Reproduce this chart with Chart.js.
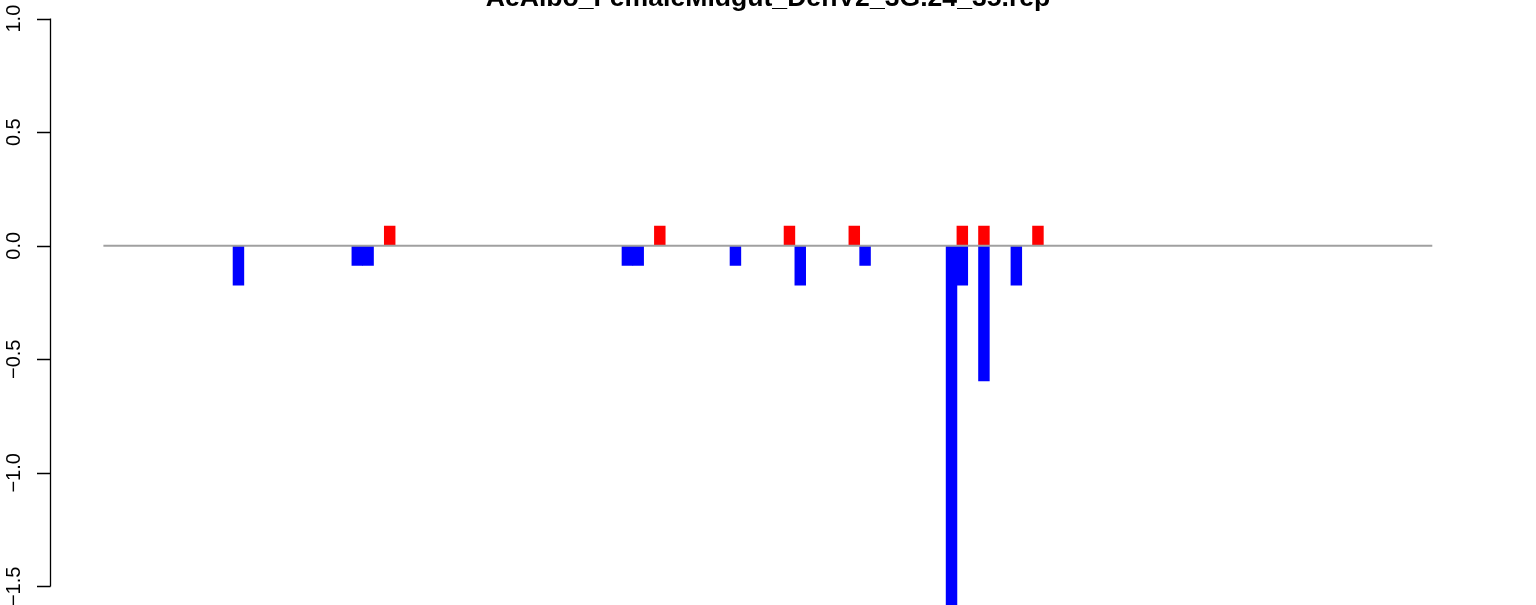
<!DOCTYPE html>
<html>
<head>
<meta charset="utf-8">
<script src="https://cdn.jsdelivr.net/npm/chart.js@4"></script>
<style>
  html, body { margin: 0; padding: 0; background: #fff; }
  canvas { display: block; }
</style>
</head>
<body>
<canvas id="chart" width="1536" height="605"></canvas>
<script>
// Datos del gráfico
const title = 'AeAlbo_FemaleMidgut_DenV2_3G.24_35.rep';
const slotCount = 123;
const downPos = [12, 23, 24, 48, 49, 58, 64, 70, 78, 79, 81, 84];
const downVal = [-0.174, -0.087, -0.087, -0.087, -0.087, -0.087, -0.174, -0.087, -1.9, -0.174, -0.595, -0.174];
const upPos = [26, 51, 63, 69, 79, 81, 86];
const upVal = [0.087, 0.087, 0.087, 0.087, 0.087, 0.087, 0.087];
const yTicks = [1.0, 0.5, 0.0, -0.5, -1.0, -1.5];
const yTickLabels = ['1.0', '0.5', '0.0', '\u22120.5', '\u22121.0', '\u22121.5'];

// Construir series completas
const labels = Array.from({ length: slotCount }, (_, i) => String(i + 1));
const buildSeries = (pos, vals) => {
  const arr = new Array(slotCount).fill(null);
  pos.forEach((p, i) => { arr[p] = vals[i]; });
  return arr;
};

// Ejes y línea cero dibujados al estilo R
const rAxisPlugin = {
  id: 'rAxis',
  afterDatasetsDraw(chart) {
    const { ctx, chartArea, scales } = chart;
    const y0 = scales.y.getPixelForValue(0);
    ctx.save();
    ctx.strokeStyle = '#a0a0a0';
    ctx.lineWidth = 2;
    ctx.beginPath();
    ctx.moveTo(chartArea.left, y0);
    ctx.lineTo(chartArea.right, y0);
    ctx.stroke();
    ctx.restore();
  },
  afterDraw(chart) {
    const { ctx, scales } = chart;
    const y = scales.y;
    const axisX = 50.5;
    ctx.save();
    ctx.strokeStyle = '#000';
    ctx.lineWidth = 1.3;
    ctx.beginPath();
    ctx.moveTo(axisX, y.getPixelForValue(yTicks[0]));
    ctx.lineTo(axisX, y.getPixelForValue(yTicks[yTicks.length - 1]));
    yTicks.forEach(t => {
      const py = Math.round(y.getPixelForValue(t)) + 0.5;
      ctx.moveTo(37, py);
      ctx.lineTo(axisX, py);
    });
    ctx.stroke();

    ctx.fillStyle = '#000';
    ctx.font = '20px "Liberation Sans", Arial, sans-serif';
    ctx.textAlign = 'center';
    ctx.textBaseline = 'alphabetic';
    yTicks.forEach((t, i) => {
      ctx.save();
      ctx.translate(19.5, y.getPixelForValue(t));
      ctx.rotate(-Math.PI / 2);
      ctx.fillText(yTickLabels[i], 0, 0);
      ctx.restore();
    });

    // Título (recortado arriba como en el original)
    ctx.font = 'bold 26.6px "Liberation Sans", Arial, sans-serif';
    ctx.fillText(title, 768, 6);
    ctx.restore();
  }
};

const ctx = document.getElementById('chart').getContext('2d');
new Chart(ctx, {
  type: 'bar',
  data: {
    labels: labels,
    datasets: [
      {
        label: 'down',
        data: buildSeries(downPos, downVal),
        backgroundColor: '#0000ff',
        borderWidth: 0
      },
      {
        label: 'up',
        data: buildSeries(upPos, upVal),
        backgroundColor: '#ff0000',
        borderWidth: 0
      }
    ]
  },
  options: {
    responsive: false,
    animation: false,
    devicePixelRatio: 1,
    layout: { padding: { left: 103.4, right: 103.7, top: 0, bottom: 0 } },
    datasets: {
      bar: { barPercentage: 1, categoryPercentage: 1, grouped: false }
    },
    plugins: {
      legend: { display: false },
      tooltip: { enabled: false },
      title: { display: false }
    },
    scales: {
      x: { display: false, grid: { display: false } },
      y: { display: false, min: -1.582, max: 1.082, grid: { display: false } }
    }
  },
  plugins: [rAxisPlugin]
});
</script>
</body>
</html>
